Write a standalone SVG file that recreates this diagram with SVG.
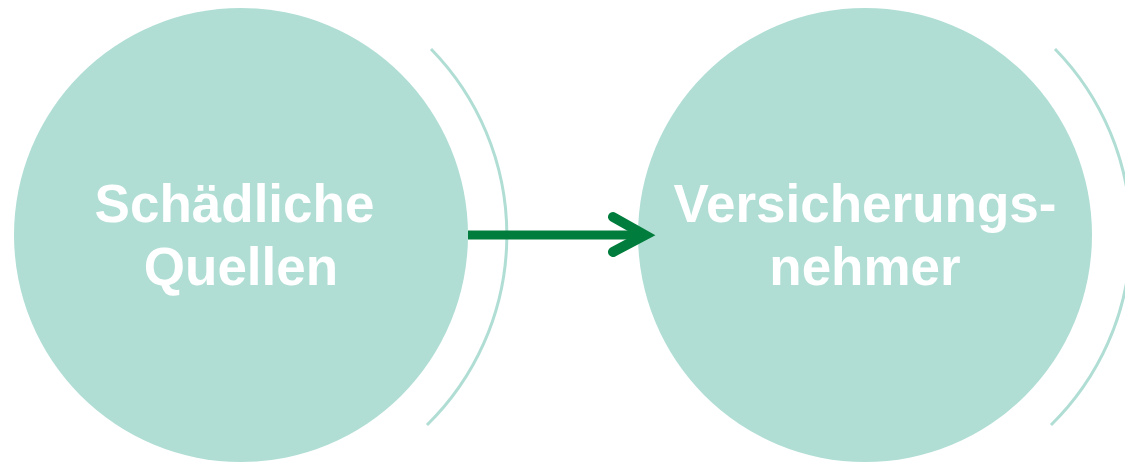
<svg xmlns="http://www.w3.org/2000/svg" width="1125" height="462" viewBox="0 0 1125 462">
  <style>
    .disc { fill: #b0ded4; }
    .halo { fill: none; stroke: #b0ded4; stroke-width: 3; }
    .label { font-family: "Liberation Sans", Arial, sans-serif; font-weight: bold; font-size: 53px; fill: #ffffff; text-anchor: middle; }
    .flow { fill: none; stroke: #007d3c; stroke-width: 9; }
    .head { fill: none; stroke: #007d3c; stroke-width: 10; stroke-linecap: round; stroke-linejoin: miter; }
  </style>

  <!-- Source node -->
  <g id="node-sources">
    <circle class="disc" cx="241" cy="235" r="227"/>
    <path class="halo" d="M 431 49 A 266 266 0 0 1 427 425"/>
    <text class="label" x="234.5" y="222">Schädliche</text>
    <text class="label" x="241" y="285">Quellen</text>
  </g>

  <!-- Target node -->
  <g id="node-policyholders">
    <circle class="disc" cx="865" cy="235" r="227"/>
    <path class="halo" d="M 1055 49 A 266 266 0 0 1 1051 425"/>
    <text class="label" x="865" y="222">Versicherungs-</text>
    <text class="label" x="865" y="285">nehmer</text>
  </g>

  <!-- Connector -->
  <g id="connectors">
    <line class="flow" x1="468" y1="235" x2="644" y2="235"/>
    <polyline class="head" points="613,217 645,235 613,252"/>
  </g>
</svg>
